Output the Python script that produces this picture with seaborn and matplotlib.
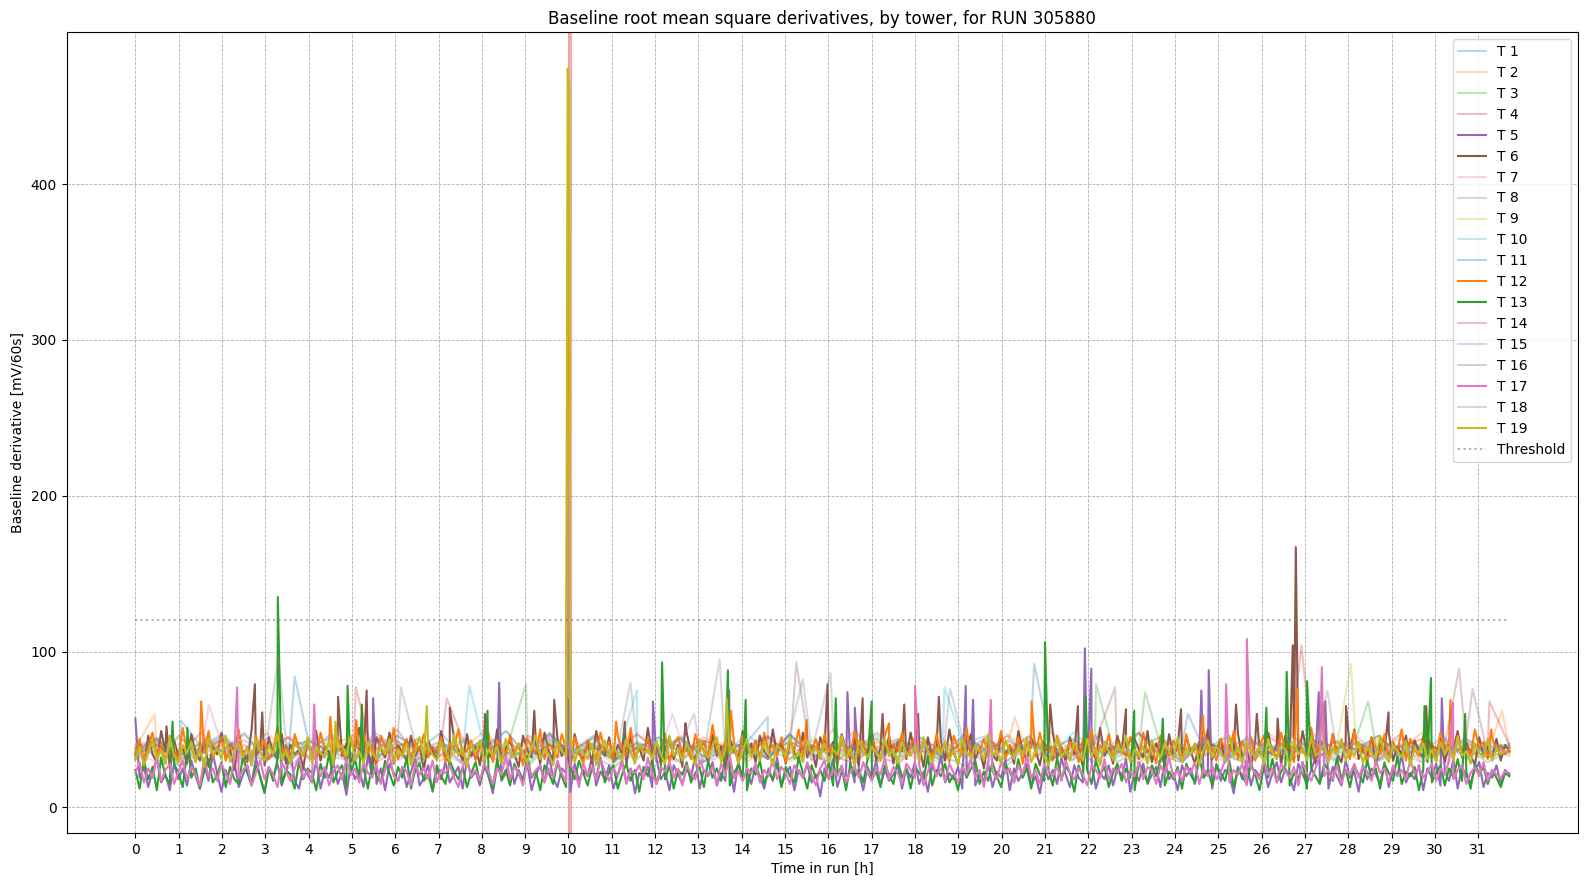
import numpy as np
import pandas as pd
import matplotlib
matplotlib.use("Agg")
import matplotlib.pyplot as plt
import seaborn as sns

# Run info
run_number = 305880
run_end_h = 31.72
threshold = 120
flag_start_h, flag_end_h = 10.0, 10.08
highlighted = [5, 6, 12, 13, 17, 19]

# Baseline derivative per tower, evenly sampled over the run [mV/60s]
t1 = [36, 44, 31, 39, 47, 33, 41, 29, 38, 45, 34, 30, 42, 37, 48, 32, 40, 35, 28, 43, 36, 46, 31, 39, 34, 44, 29, 37, 41, 33, 47, 35,
      30, 42, 38, 32, 45, 36, 40, 28, 43, 34, 39, 31, 46, 37, 33, 41, 29, 44, 35, 38, 32, 47, 36, 30, 42, 34, 40, 37, 45, 31, 39, 35]
t2 = [38, 31, 45, 35, 42, 29, 48, 36, 33, 40, 46, 32, 39, 44, 30, 37, 49, 34, 41, 28, 43, 36, 31, 47, 38, 33, 45, 40, 29, 37, 42, 35,
      50, 31, 39, 44, 34, 28, 46, 37, 41, 32, 48, 35, 30, 43, 38, 45, 33, 40, 36, 29, 47, 39, 34, 42, 31, 44, 37, 48, 32, 40, 35, 38]
t3 = [33, 40, 27, 36, 44, 31, 38, 29, 42, 35, 30, 46, 34, 28, 39, 43, 32, 37, 26, 41, 35, 45, 30, 38, 33, 29, 42, 36, 40, 31, 47, 34,
      28, 39, 44, 32, 37, 30, 43, 35, 27, 41, 38, 33, 46, 29, 36, 40, 31, 44, 34, 28, 39, 42, 32, 37, 45, 30, 35, 41, 33, 38, 29, 36]
t4 = [37, 43, 32, 48, 35, 40, 29, 45, 38, 33, 42, 36, 50, 31, 39, 44, 34, 28, 46, 37, 41, 32, 38, 47, 35, 30, 43, 39, 34, 45, 31, 40,
      36, 49, 33, 28, 42, 38, 44, 32, 37, 46, 30, 41, 35, 39, 48, 33, 29, 43, 36, 40, 34, 45, 31, 38, 42, 35, 47, 32, 39, 44, 36, 40]
t5 = [57, 19, 26, 13, 23, 31, 16, 21, 11, 28, 18, 25, 14, 30, 20, 12, 27, 17, 34, 22,
      10, 24, 16, 29, 13, 21, 27, 15, 32, 19, 9, 25, 20, 28, 14, 23, 35, 17, 12, 26,
      21, 16, 30, 12, 24, 19, 29, 15, 22, 8, 27, 18, 24, 13, 33, 20, 15, 25, 11, 28,
      22, 17, 26, 13, 23, 31, 14, 19, 27, 10, 24, 18, 29, 16, 21, 26, 12, 31, 19, 23,
      14, 27, 20, 9, 26, 17, 22, 30, 15, 24, 18, 28, 11, 21, 27, 16, 34, 19, 13, 25,
      22, 10, 28, 17, 24, 20, 32, 14, 23, 18, 27, 12, 21, 30, 16, 25, 9, 22, 19, 26,
      13, 31, 18, 23, 11, 27, 21, 15, 25, 19, 33, 12, 24, 20, 29, 14, 22, 17, 26, 10,
      30, 18, 23, 15, 27, 20, 12, 25, 17, 32, 14, 22, 26, 11, 24, 19, 28, 16, 21, 7,
      25, 18, 31, 13, 23, 20, 28, 16, 22, 11, 26, 19, 30, 14, 24, 17, 21, 27, 12, 25,
      19, 29, 15, 23, 10, 27, 20, 33, 16, 22, 18, 26, 12, 24, 30, 14, 21, 17, 28, 13,
      23, 19, 31, 11, 25, 17, 22, 28, 14, 20, 9, 26, 18, 24, 15, 32, 21, 13, 27, 19,
      16, 24, 29, 12, 22, 18, 27, 14, 25, 20, 31, 10, 23, 17, 28, 15, 21, 26, 13, 30,
      18, 22, 11, 27, 20, 25, 15, 33, 19, 23, 12, 28, 17, 24, 21, 9, 26, 18, 30, 14,
      24, 20, 27, 13, 22, 29, 16, 25, 19, 11, 28, 21, 15, 24, 32, 17, 23, 12, 26, 20,
      14, 30, 19, 23, 10, 27, 18, 25, 21, 15, 29, 13, 24, 20, 34, 16, 22, 18, 27, 11,
      25, 19, 28, 14, 23, 17, 31, 12, 26, 20, 16, 24, 29, 13, 22, 19, 27, 15, 24, 21]
t6 = [31, 41, 27, 46, 34, 29, 49, 36, 25, 43, 33, 38, 28, 47, 35, 30, 44, 26, 39, 34,
      48, 31, 37, 24, 42, 36, 29, 50, 33, 38, 27, 45, 35, 31, 47, 28, 40, 34, 37, 25,
      44, 32, 49, 30, 39, 35, 27, 46, 33, 41, 29, 37, 51, 31, 36, 26, 45, 38, 32, 48,
      28, 40, 35, 30, 46, 33, 39, 24, 43, 36, 31, 49, 34, 28, 44, 37, 30, 47, 33, 39,
      27, 45, 35, 31, 50, 29, 38, 43, 34, 26, 46, 37, 32, 41, 28, 48, 36, 30, 44, 33,
      39, 25, 47, 35, 31, 42, 28, 49, 37, 33, 45, 29, 40, 35, 27, 46, 32, 38, 30, 51,
      34, 42, 28, 37, 45, 31, 40, 26, 48, 35, 30, 43, 36, 29, 47, 33, 39, 24, 44, 37,
      31, 49, 34, 41, 29, 46, 36, 32, 50, 34, 41, 28, 43, 35, 30, 48, 32, 39, 26, 45,
      37, 33, 42, 29, 47, 36, 31, 44, 27, 40, 35, 49, 30, 38, 33, 46, 28, 42, 36, 31,
      48, 34, 39, 26, 45, 32, 37, 43, 30, 50, 35, 28, 41, 36, 47, 31, 38, 25, 44, 34,
      30, 46, 33, 40, 28, 49, 36, 31, 44, 37, 27, 42, 35, 48, 32, 39, 29, 45, 34, 38,
      26, 43, 36, 31, 51, 33, 38, 28, 46, 35, 40, 30, 44, 37, 32, 49, 29, 41, 35, 27,
      47, 33, 39, 30, 45, 36, 28, 42, 34, 50, 31, 37, 44, 29, 40, 35, 47, 32, 38, 26,
      43, 36, 31, 48, 34, 40, 27, 46, 33, 38, 30, 49, 35, 41, 28, 44, 37, 32, 47, 34,
      29, 42, 36, 50, 31, 38, 33, 45, 27, 41, 35, 48, 30, 39, 34, 46, 28, 43, 36, 32,
      46, 35, 31, 44, 29, 40, 37, 49, 32, 42, 34, 27, 45, 33, 39, 31, 44, 30, 40, 36]
t7 = [35, 29, 41, 33, 38, 27, 44, 36, 31, 40, 34, 46, 30, 37, 42, 28, 39, 35, 32, 45, 36, 30, 41, 38, 33, 43, 29, 37, 40, 34, 47, 31,
      36, 39, 28, 42, 35, 44, 32, 38, 30, 41, 37, 33, 45, 36, 29, 40, 34, 43, 31, 38, 35, 46, 30, 37, 41, 33, 39, 36, 28, 42, 34, 38]
t8 = [40, 34, 46, 31, 38, 43, 36, 29, 45, 39, 33, 48, 37, 32, 41, 35, 44, 30, 38, 47, 34, 40, 36, 31, 43, 39, 28, 45, 37, 33, 42, 35,
      49, 32, 38, 44, 36, 30, 41, 46, 34, 39, 31, 43, 37, 35, 48, 33, 40, 36, 29, 44, 38, 42, 32, 37, 45, 35, 39, 31, 43, 36, 40, 38]
t9 = [32, 38, 30, 43, 35, 29, 40, 36, 33, 45, 31, 37, 41, 28, 39, 34, 44, 30, 36, 42, 33, 38, 27, 40, 35, 46, 31, 37, 34, 43, 29, 39,
      36, 32, 44, 38, 30, 41, 35, 33, 47, 36, 31, 39, 42, 34, 28, 37, 40, 33, 45, 35, 30, 38, 43, 32, 36, 41, 34, 29, 39, 37, 33, 36]
t10 = [39, 45, 33, 41, 36, 48, 31, 38, 43, 35, 40, 30, 46, 37, 42, 34, 39, 49, 32, 44, 36, 41, 29, 38, 45, 35, 40, 33, 47, 37, 31, 43,
       39, 34, 46, 36, 42, 30, 38, 44, 35, 41, 33, 48, 37, 32, 40, 45, 36, 39, 31, 43, 38, 34, 47, 35, 41, 37, 44, 33, 40, 36, 42, 39]
t11 = [36, 42, 31, 39, 45, 34, 30, 41, 37, 47, 33, 38, 43, 29, 40, 35, 44, 32, 37, 48, 34, 39, 30, 42, 36, 45, 33, 38, 41, 31, 46, 35,
       40, 37, 32, 43, 39, 34, 47, 36, 30, 42, 38, 44, 33, 40, 35, 29, 41, 37, 45, 32, 39, 36, 43, 34, 38, 46, 31, 40, 37, 42, 35, 41]
t12 = [34, 44, 30, 39, 48, 33, 41, 28, 46, 37, 31, 51, 36, 42, 29, 40, 35, 49, 32, 38,
       45, 30, 41, 36, 50, 33, 39, 27, 46, 37, 43, 31, 36, 52, 34, 40, 29, 47, 38, 33,
       43, 35, 30, 48, 37, 41, 32, 45, 36, 29, 42, 38, 33, 47, 35, 40, 28, 46, 39, 34,
       51, 31, 37, 44, 30, 42, 36, 47, 32, 39, 35, 45, 29, 41, 38, 50, 33, 37, 43, 30,
       40, 36, 48, 29, 43, 38, 33, 46, 35, 41, 27, 44, 39, 34, 50, 31, 41, 37, 32, 47,
       38, 33, 45, 35, 28, 43, 39, 31, 48, 36, 42, 30, 46, 37, 34, 51, 32, 40, 36, 44,
       30, 42, 35, 47, 29, 40, 45, 34, 38, 31, 47, 36, 42, 33, 53, 37, 31, 44, 35, 41,
       28, 46, 38, 34, 43, 30, 48, 36, 40, 33, 45, 29, 42, 37, 50, 32, 39, 35, 44, 31,
       47, 36, 40, 27, 45, 38, 33, 49, 35, 42, 31, 44, 37, 30, 46, 34, 41, 36, 48, 32,
       39, 45, 30, 43, 37, 32, 47, 35, 41, 29, 46, 38, 34, 51, 31, 40, 36, 44, 33, 42,
       36, 49, 31, 40, 35, 45, 28, 43, 38, 33, 48, 36, 41, 30, 46, 37, 34, 42, 39, 29,
       44, 35, 50, 32, 39, 36, 47, 30, 42, 37, 33, 45, 38, 31, 48, 35, 40, 28, 46, 37,
       33, 43, 38, 29, 47, 35, 41, 32, 50, 36, 39, 30, 44, 37, 34, 49, 31, 42, 36, 45,
       30, 40, 46, 34, 38, 31, 48, 37, 42, 29, 45, 36, 33, 51, 35, 41, 38, 32, 47, 34,
       43, 37, 31, 49, 36, 40, 28, 45, 38, 34, 47, 32, 42, 36, 50, 30, 44, 37, 33, 46,
       35, 41, 32, 48, 37, 43, 30, 46, 36, 39, 33, 50, 38, 42, 31, 45, 36, 40, 34, 38]
t13 = [24, 12, 30, 18, 26, 11, 32, 20, 15, 28, 22, 13, 34, 19, 25, 12, 23, 31, 16, 21,
       29, 13, 26, 18, 15, 33, 22, 14, 27, 20, 10, 26, 17, 31, 15, 24, 21, 12, 29, 18,
       25, 22, 11, 28, 19, 35, 16, 23, 27, 13, 21, 31, 18, 25, 12, 28, 20, 16, 30, 22,
       14, 26, 19, 32, 12, 24, 28, 17, 21, 11, 27, 20, 15, 30, 23, 18, 26, 13, 22, 29,
       16, 25, 20, 12, 31, 18, 24, 14, 28, 21, 17, 33, 19, 23, 11, 27, 22, 15, 29, 20,
       13, 26, 18, 30, 22, 14, 25, 19, 32, 16, 23, 27, 12, 21, 28, 17, 24, 10, 26, 20,
       31, 15, 23, 18, 27, 12, 24, 21, 29, 16, 22, 26, 13, 30, 19, 25, 17, 33, 14, 22,
       27, 19, 11, 25, 21, 30, 15, 23, 18, 28, 13, 26, 20, 16, 32, 22, 12, 27, 19, 24,
       17, 29, 14, 22, 26, 11, 28, 20, 24, 16, 31, 18, 23, 13, 27, 21, 15, 30, 19, 25,
       12, 26, 22, 18, 33, 14, 24, 20, 28, 16, 21, 11, 27, 19, 25, 30, 15, 23, 17, 29,
       20, 13, 27, 23, 16, 31, 19, 25, 12, 28, 21, 17, 24, 14, 32, 18, 26, 22, 10, 27,
       19, 24, 15, 30, 21, 26, 13, 22, 28, 17, 25, 19, 11, 29, 23, 16, 27, 20, 31, 14,
       23, 18, 26, 12, 28, 21, 16, 33, 19, 24, 14, 27, 22, 17, 30, 13, 25, 20, 15, 28,
       21, 11, 26, 19, 31, 16, 23, 27, 14, 22, 18, 29, 12, 25, 20, 15, 28, 24, 17, 32,
       18, 24, 13, 27, 21, 16, 30, 19, 25, 12, 28, 22, 17, 33, 15, 23, 20, 26, 11, 24,
       29, 16, 22, 27, 14, 25, 19, 31, 17, 23, 12, 28, 21, 26, 15, 24, 19, 13, 22, 20]
t14 = [34, 40, 29, 37, 43, 32, 38, 45, 31, 36, 41, 28, 39, 44, 33, 37, 30, 42, 35, 47, 32, 38, 34, 41, 29, 36, 43, 39, 31, 45, 35, 40,
       33, 28, 42, 37, 44, 32, 38, 35, 46, 30, 39, 34, 41, 36, 31, 43, 38, 33, 40, 29, 45, 36, 34, 42, 37, 31, 39, 44, 35, 38, 32, 36]
t15 = [31, 37, 27, 34, 40, 30, 36, 25, 38, 33, 29, 42, 35, 31, 37, 28, 39, 34, 44, 30, 36, 32, 26, 38, 35, 41, 29, 33, 37, 31, 43, 34,
       28, 39, 36, 30, 40, 33, 27, 38, 35, 42, 31, 36, 29, 39, 34, 37, 30, 45, 33, 28, 38, 35, 41, 31, 36, 32, 39, 29, 37, 34, 40, 33]
t16 = [38, 44, 33, 41, 36, 47, 31, 39, 43, 35, 40, 30, 46, 37, 34, 42, 38, 49, 32, 40, 36, 44, 31, 38, 45, 35, 41, 33, 39, 46, 34, 30,
       42, 37, 48, 35, 40, 32, 43, 38, 36, 45, 31, 39, 42, 34, 47, 37, 33, 41, 38, 44, 35, 30, 43, 39, 36, 46, 33, 40, 37, 42, 35, 39]
t17 = [22, 29, 16, 25, 19, 32, 17, 24, 28, 15, 23, 30, 18, 26, 21, 14, 31, 20, 25, 17,
       28, 22, 15, 33, 19, 24, 27, 14, 22, 30, 18, 26, 21, 13, 29, 23, 17, 25, 32, 19,
       24, 16, 28, 20, 26, 14, 23, 27, 18, 31, 21, 25, 16, 29, 22, 19, 27, 15, 24, 34,
       20, 17, 26, 23, 14, 28, 21, 25, 18, 30, 16, 24, 22, 27, 19, 13, 26, 31, 20, 24,
       17, 28, 23, 15, 25, 21, 33, 18, 26, 22, 14, 29, 20, 24, 27, 16, 25, 19, 30, 22,
       16, 27, 24, 13, 28, 21, 26, 18, 31, 23, 17, 25, 20, 29, 15, 24, 22, 27, 18, 32,
       21, 15, 26, 23, 29, 19, 25, 14, 27, 22, 18, 30, 24, 20, 26, 15, 28, 21, 33, 19,
       23, 17, 25, 22, 28, 16, 24, 20, 31, 18, 26, 22, 15, 27, 23, 19, 29, 21, 14, 25,
       30, 18, 24, 20, 27, 16, 23, 26, 19, 29, 22, 17, 25, 21, 32, 18, 26, 22, 15, 28,
       24, 19, 27, 14, 23, 30, 20, 25, 17, 28, 22, 16, 26, 21, 31, 19, 24, 13, 27, 23,
       18, 29, 22, 25, 16, 27, 21, 33, 19, 24, 15, 28, 23, 20, 26, 17, 30, 22, 18, 25,
       21, 14, 27, 24, 19, 31, 17, 25, 22, 28, 16, 23, 20, 29, 18, 26, 24, 15, 27, 21,
       32, 19, 24, 17, 26, 22, 29, 15, 25, 20, 27, 18, 23, 30, 16, 24, 21, 28, 14, 26,
       22, 18, 31, 21, 25, 16, 28, 23, 19, 26, 14, 29, 22, 17, 25, 33, 20, 24, 18, 27,
       15, 24, 21, 28, 19, 26, 23, 17, 30, 22, 25, 16, 27, 20, 24, 18, 31, 21, 26, 19,
       23, 28, 17, 25, 21, 30, 18, 24, 27, 15, 22, 26, 20, 29, 17, 24, 21, 19, 23, 22]
t18 = [35, 41, 30, 38, 44, 33, 39, 28, 42, 36, 31, 45, 37, 34, 40, 29, 43, 38, 32, 46, 35, 39, 30, 41, 37, 44, 33, 36, 42, 31, 47, 38,
       34, 40, 29, 43, 36, 39, 32, 45, 35, 41, 37, 30, 44, 38, 33, 40, 36, 42, 31, 46, 35, 39, 34, 43, 37, 30, 41, 38, 33, 44, 36, 40]
t19 = [30, 39, 27, 35, 43, 31, 37, 28, 45, 33, 29, 40, 35, 42, 30, 37, 26, 44, 34, 38,
       31, 46, 29, 36, 41, 32, 38, 27, 44, 35, 30, 40, 34, 47, 31, 36, 28, 42, 37, 33,
       45, 29, 38, 35, 32, 43, 27, 37, 40, 33, 46, 30, 36, 28, 42, 35, 31, 39, 34, 44,
       29, 37, 33, 41, 27, 36, 45, 31, 38, 34, 30, 42, 36, 29, 47, 33, 38, 26, 41, 35,
       43, 30, 37, 33, 39, 28, 44, 36, 32, 41, 35, 29, 38, 46, 31, 37, 34, 27, 42, 36,
       33, 45, 29, 38, 35, 31, 41, 27, 36, 43, 32, 39, 34, 30, 44, 36, 28, 40, 35, 37,
       31, 42, 34, 28, 46, 33, 38, 30, 41, 36, 27, 43, 35, 32, 39, 45, 29, 37, 34, 40,
       28, 36, 44, 32, 38, 30, 42, 35, 27, 40, 37, 33, 45, 31, 36, 29, 43, 34, 38, 32,
       41, 29, 37, 34, 46, 31, 38, 27, 43, 36, 32, 39, 35, 30, 44, 33, 37, 28, 42, 35,
       33, 40, 30, 45, 36, 29, 38, 34, 42, 31, 37, 27, 44, 35, 32, 40, 36, 30, 47, 33,
       37, 28, 43, 35, 31, 39, 34, 45, 29, 36, 41, 33, 27, 38, 44, 32, 37, 30, 42, 35,
       30, 44, 33, 38, 27, 42, 36, 31, 40, 35, 46, 29, 37, 33, 39, 28, 43, 36, 32, 41,
       36, 31, 45, 29, 38, 34, 41, 27, 37, 43, 32, 39, 35, 30, 46, 33, 38, 29, 42, 36,
       32, 39, 28, 44, 35, 31, 40, 37, 26, 43, 34, 38, 30, 45, 33, 36, 41, 29, 38, 34,
       44, 30, 37, 33, 42, 28, 39, 35, 31, 46, 34, 29, 40, 36, 32, 43, 27, 38, 35, 41,
       31, 37, 29, 42, 34, 39, 30, 45, 33, 36, 28, 41, 35, 32, 44, 30, 38, 34, 36, 35]

# Isolated peaks (time [h], value)
peaks_t1 = [(3.68, 84), (20.75, 92), (14.6, 58)]
peaks_t2 = [(0.45, 60), (20.3, 58), (31.55, 62)]
peaks_t3 = [(9.02, 79), (22.18, 79), (23.31, 74), (28.46, 68)]
peaks_t4 = [(7.19, 70), (26.92, 104), (31.26, 68)]
peaks_t5 = [(5.49, 70), (8.40, 80), (10.0, 69), (11.95, 68), (13.71, 75), (16.44, 74), (16.61, 64), (19.17, 78),
            (19.34, 69), (21.92, 102), (22.07, 89), (24.61, 75), (24.78, 88), (27.32, 74), (27.47, 68), (30.16, 70)]
peaks_t6 = [(0.72, 52), (2.76, 79), (2.93, 61), (4.68, 71), (5.34, 75), (7.26, 64), (8.07, 60), (9.21, 62), (9.67, 69),
            (11.3, 55), (12.7, 54), (15.98, 79), (16.79, 70), (17.25, 60), (17.75, 66), (18.07, 60), (18.55, 71), (21.12, 66),
            (21.76, 65), (22.87, 63), (24.14, 63), (25.41, 66), (25.89, 60), (26.37, 57), (26.72, 104), (26.79, 167),
            (27.95, 65), (28.93, 61), (29.80, 65)]
peaks_t7 = [(1.7, 66), (12.4, 60)]
peaks_t8 = [(6.13, 77), (13.49, 95), (16.05, 86), (18.81, 76)]
peaks_t9 = [(28.06, 92)]
peaks_t10 = [(7.71, 78), (11.58, 75), (18.68, 77)]
peaks_t11 = [(1.05, 56), (24.3, 60)]
peaks_t12 = [(1.52, 68), (4.5, 58), (5.1, 56), (9.99, 405), (10.02, 300), (11.1, 55), (13.75, 62),
             (15.5, 56), (17.4, 54), (20.69, 68), (24.65, 59), (26.82, 76), (27.42, 66), (30.36, 69), (31.3, 50)]
peaks_t13 = [(0.86, 55), (1.2, 51), (3.29, 135), (4.90, 78), (5.23, 66), (8.13, 62), (10.0, 186),
             (12.16, 93), (13.68, 88), (14.09, 69), (16.17, 70), (17.0, 68), (21.0, 106), (21.94, 71), (23.06, 62),
             (23.72, 57), (26.11, 64), (26.58, 87), (27.05, 81), (29.76, 65), (29.91, 83), (30.7, 60)]
peaks_t14 = [(5.09, 77)]
peaks_t15 = [(12.9, 60)]
peaks_t16 = [(15.26, 93), (22.62, 77), (30.56, 89), (30.87, 76)]
peaks_t17 = [(2.35, 77), (4.13, 66), (10.01, 212), (18.0, 78), (19.75, 69), (25.18, 79), (25.66, 108),
             (27.39, 90), (30.42, 67)]
peaks_t18 = [(3.3, 97), (11.43, 80), (15.41, 82), (27.52, 75)]
peaks_t19 = [(4.62, 55), (6.73, 65), (9.98, 474), (10.02, 460), (13.65, 70)]

towers = {1: (t1, peaks_t1), 2: (t2, peaks_t2), 3: (t3, peaks_t3), 4: (t4, peaks_t4), 5: (t5, peaks_t5),
          6: (t6, peaks_t6), 7: (t7, peaks_t7), 8: (t8, peaks_t8), 9: (t9, peaks_t9), 10: (t10, peaks_t10),
          11: (t11, peaks_t11), 12: (t12, peaks_t12), 13: (t13, peaks_t13), 14: (t14, peaks_t14),
          15: (t15, peaks_t15), 16: (t16, peaks_t16), 17: (t17, peaks_t17), 18: (t18, peaks_t18),
          19: (t19, peaks_t19)}

palette = sns.color_palette("tab10", 10)

fig, ax = plt.subplots(figsize=(15.86, 8.86), dpi=100)

for n, (vals, pk) in towers.items():
    t = np.linspace(0, run_end_h, len(vals))
    df = pd.DataFrame({"time": np.concatenate([t, [p[0] for p in pk]]),
                       "value": np.concatenate([vals, [p[1] for p in pk]])}).sort_values("time")
    sns.lineplot(data=df, x="time", y="value", ax=ax, color=palette[(n - 1) % 10],
                 linewidth=1.5, alpha=1.0 if n in highlighted else 0.3,
                 estimator=None, sort=False, label=f"T {n}")

ax.hlines(threshold, 0, run_end_h, colors="grey", linestyles=":", alpha=0.6, label="Threshold")
ax.axvspan(flag_start_h, flag_end_h, color="red", alpha=0.35, lw=0)

ax.set_xticks(range(0, 32))
ax.grid(True, linestyle="--", linewidth=0.6)
ax.set_title(f"Baseline root mean square derivatives, by tower, for RUN {run_number}")
ax.set_xlabel("Time in run [h]")
ax.set_ylabel("Baseline derivative [mV/60s]")
ax.legend(loc="upper right")

plt.subplots_adjust(left=0.042, right=0.995, top=0.9635, bottom=0.06)
plt.savefig("out.png", dpi=100)
